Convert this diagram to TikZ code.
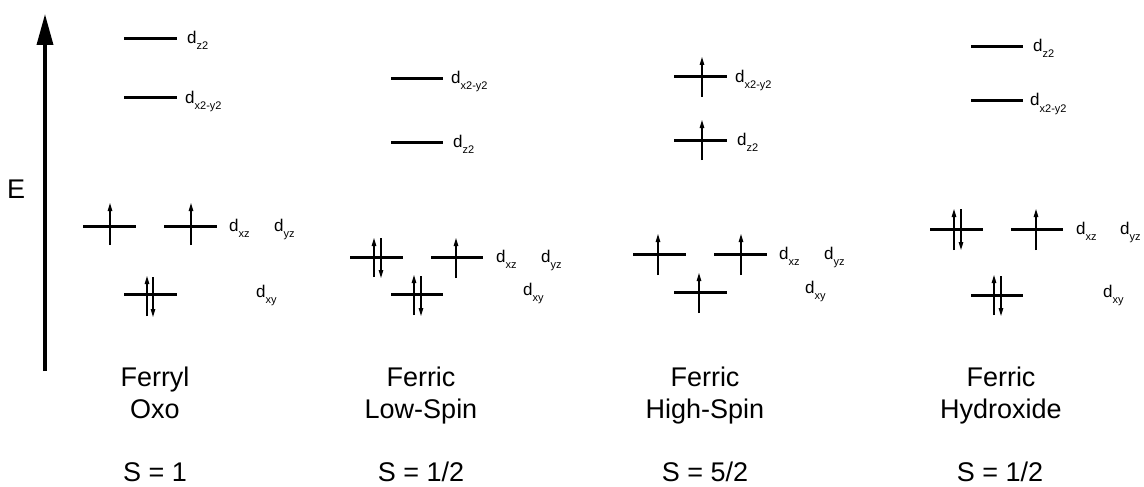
\documentclass[tikz,border=0pt]{standalone}
\usepackage{fontspec}
\setmainfont{Liberation Sans}
\usetikzlibrary{arrows.meta}
\newcommand\orbl[1]{{\fontsize{17}{20}\selectfont d}\raisebox{-6pt}{\fontsize{11}{13}\selectfont #1}}
\begin{document}
\begin{tikzpicture}[x=1pt,y=-1pt,
  lvl/.style={line width=3pt},
  eup/.style={line width=1.1pt,-{Triangle[width=4.5pt,length=8pt]}},
  axisline/.style={line width=3.5pt,-{Triangle[width=16pt,length=31pt]}},
  olab/.style={anchor=base west,inner sep=0pt},
  big/.style={font=\fontsize{27}{32}\selectfont,inner sep=0pt,anchor=base}]
\useasboundingbox (0,0) rectangle (1144,487);

% energy axis
\coordinate (axb) at (45,371);
\coordinate (axt) at (45,14);
\draw[axisline] (axb) -- (axt);
\node[big,anchor=base west] (E) at (7,198) {E};

% ---------------- Ferryl Oxo ----------------
\draw[lvl] (124,39) -- (177,39);
\node[olab] (a1) at (187,44) {\orbl{z2}};
\draw[lvl] (124,98) -- (177,98);
\node[olab] (a2) at (185,103) {\orbl{x2-y2}};
\draw[lvl] (83,226) -- (136,226);
\draw[lvl] (164,226) -- (217,226);
\draw[eup] (110,245) -- (110,203);
\draw[eup] (191,245) -- (191,203);
\node[olab] (a3) at (229,231) {\orbl{xz}};
\node[olab] (a4) at (274,231) {\orbl{yz}};
\draw[lvl] (124,294) -- (177,294);
\draw[eup] (147,316) -- (147,276);
\draw[eup] (153,277) -- (153,317);
\node[olab] (a5) at (256,297) {\orbl{xy}};

% ---------------- Ferric Low-Spin ----------------
\draw[lvl] (391,79) -- (443,79);
\node[olab] (b1) at (451,84) {\orbl{x2-y2}};
\draw[lvl] (391,142) -- (443,142);
\node[olab] (b2) at (453,147) {\orbl{z2}};
\draw[lvl] (350,257) -- (403,257);
\draw[lvl] (431,257) -- (483,257);
\draw[eup] (374,277) -- (374,238);
\draw[eup] (381,238) -- (381,278);
\draw[eup] (456,278) -- (456,238);
\node[olab] (b3) at (496,262) {\orbl{xz}};
\node[olab] (b4) at (541,262) {\orbl{yz}};
\draw[lvl] (391,294) -- (443,294);
\draw[eup] (414,315) -- (414,275);
\draw[eup] (421,276) -- (421,316);
\node[olab] (b5) at (523,295) {\orbl{xy}};

% ---------------- Ferric High-Spin ----------------
\draw[lvl] (674,77) -- (727,77);
\draw[eup] (702,97) -- (702,57);
\node[olab] (c1) at (735,82) {\orbl{x2-y2}};
\draw[lvl] (674,140) -- (727,140);
\draw[eup] (702,160) -- (702,120);
\node[olab] (c2) at (737,145) {\orbl{z2}};
\draw[lvl] (633,254) -- (686,254);
\draw[lvl] (714,254) -- (767,254);
\draw[eup] (658,275) -- (658,234);
\draw[eup] (741,275) -- (741,234);
\node[olab] (c3) at (779,259) {\orbl{xz}};
\node[olab] (c4) at (824,259) {\orbl{yz}};
\draw[lvl] (674,292) -- (727,292);
\draw[eup] (699,313) -- (699,273);
\node[olab] (c5) at (805,293) {\orbl{xy}};

% ---------------- Ferric Hydroxide ----------------
\draw[lvl] (971,47) -- (1023,47);
\node[olab] (d1) at (1033,52) {\orbl{z2}};
\draw[lvl] (971,101) -- (1023,101);
\node[olab] (d2) at (1030,106) {\orbl{x2-y2}};
\draw[lvl] (930,229) -- (983,229);
\draw[lvl] (1011,229) -- (1063,229);
\draw[eup] (954,250) -- (954,209);
\draw[eup] (961,209) -- (961,250);
\draw[eup] (1036,250) -- (1036,209);
\node[olab] (d3) at (1076,234) {\orbl{xz}};
\node[olab] (d4) at (1120,234) {\orbl{yz}};
\draw[lvl] (971,295) -- (1023,295);
\draw[eup] (994,315) -- (994,275);
\draw[eup] (1001,276) -- (1001,316);
\node[olab] (d5) at (1103,297) {\orbl{xy}};

% ---------------- captions ----------------
\node[big] (t1a) at (155,386) {Ferryl};
\node[big] (t1b) at (155,418) {Oxo};
\node[big] (t1s) at (155,481) {S = 1};
\node[big] (t2a) at (421,386) {Ferric};
\node[big] (t2b) at (421,418) {Low-Spin};
\node[big] (t2s) at (421,481) {S = 1/2};
\node[big] (t3a) at (705,386) {Ferric};
\node[big] (t3b) at (705,418) {High-Spin};
\node[big] (t3s) at (705,481) {S = 5/2};
\node[big] (t4a) at (1001,386) {Ferric};
\node[big] (t4b) at (1001,418) {Hydroxide};
\node[big] (t4s) at (1000,481) {S = 1/2};
\end{tikzpicture}
\end{document}
